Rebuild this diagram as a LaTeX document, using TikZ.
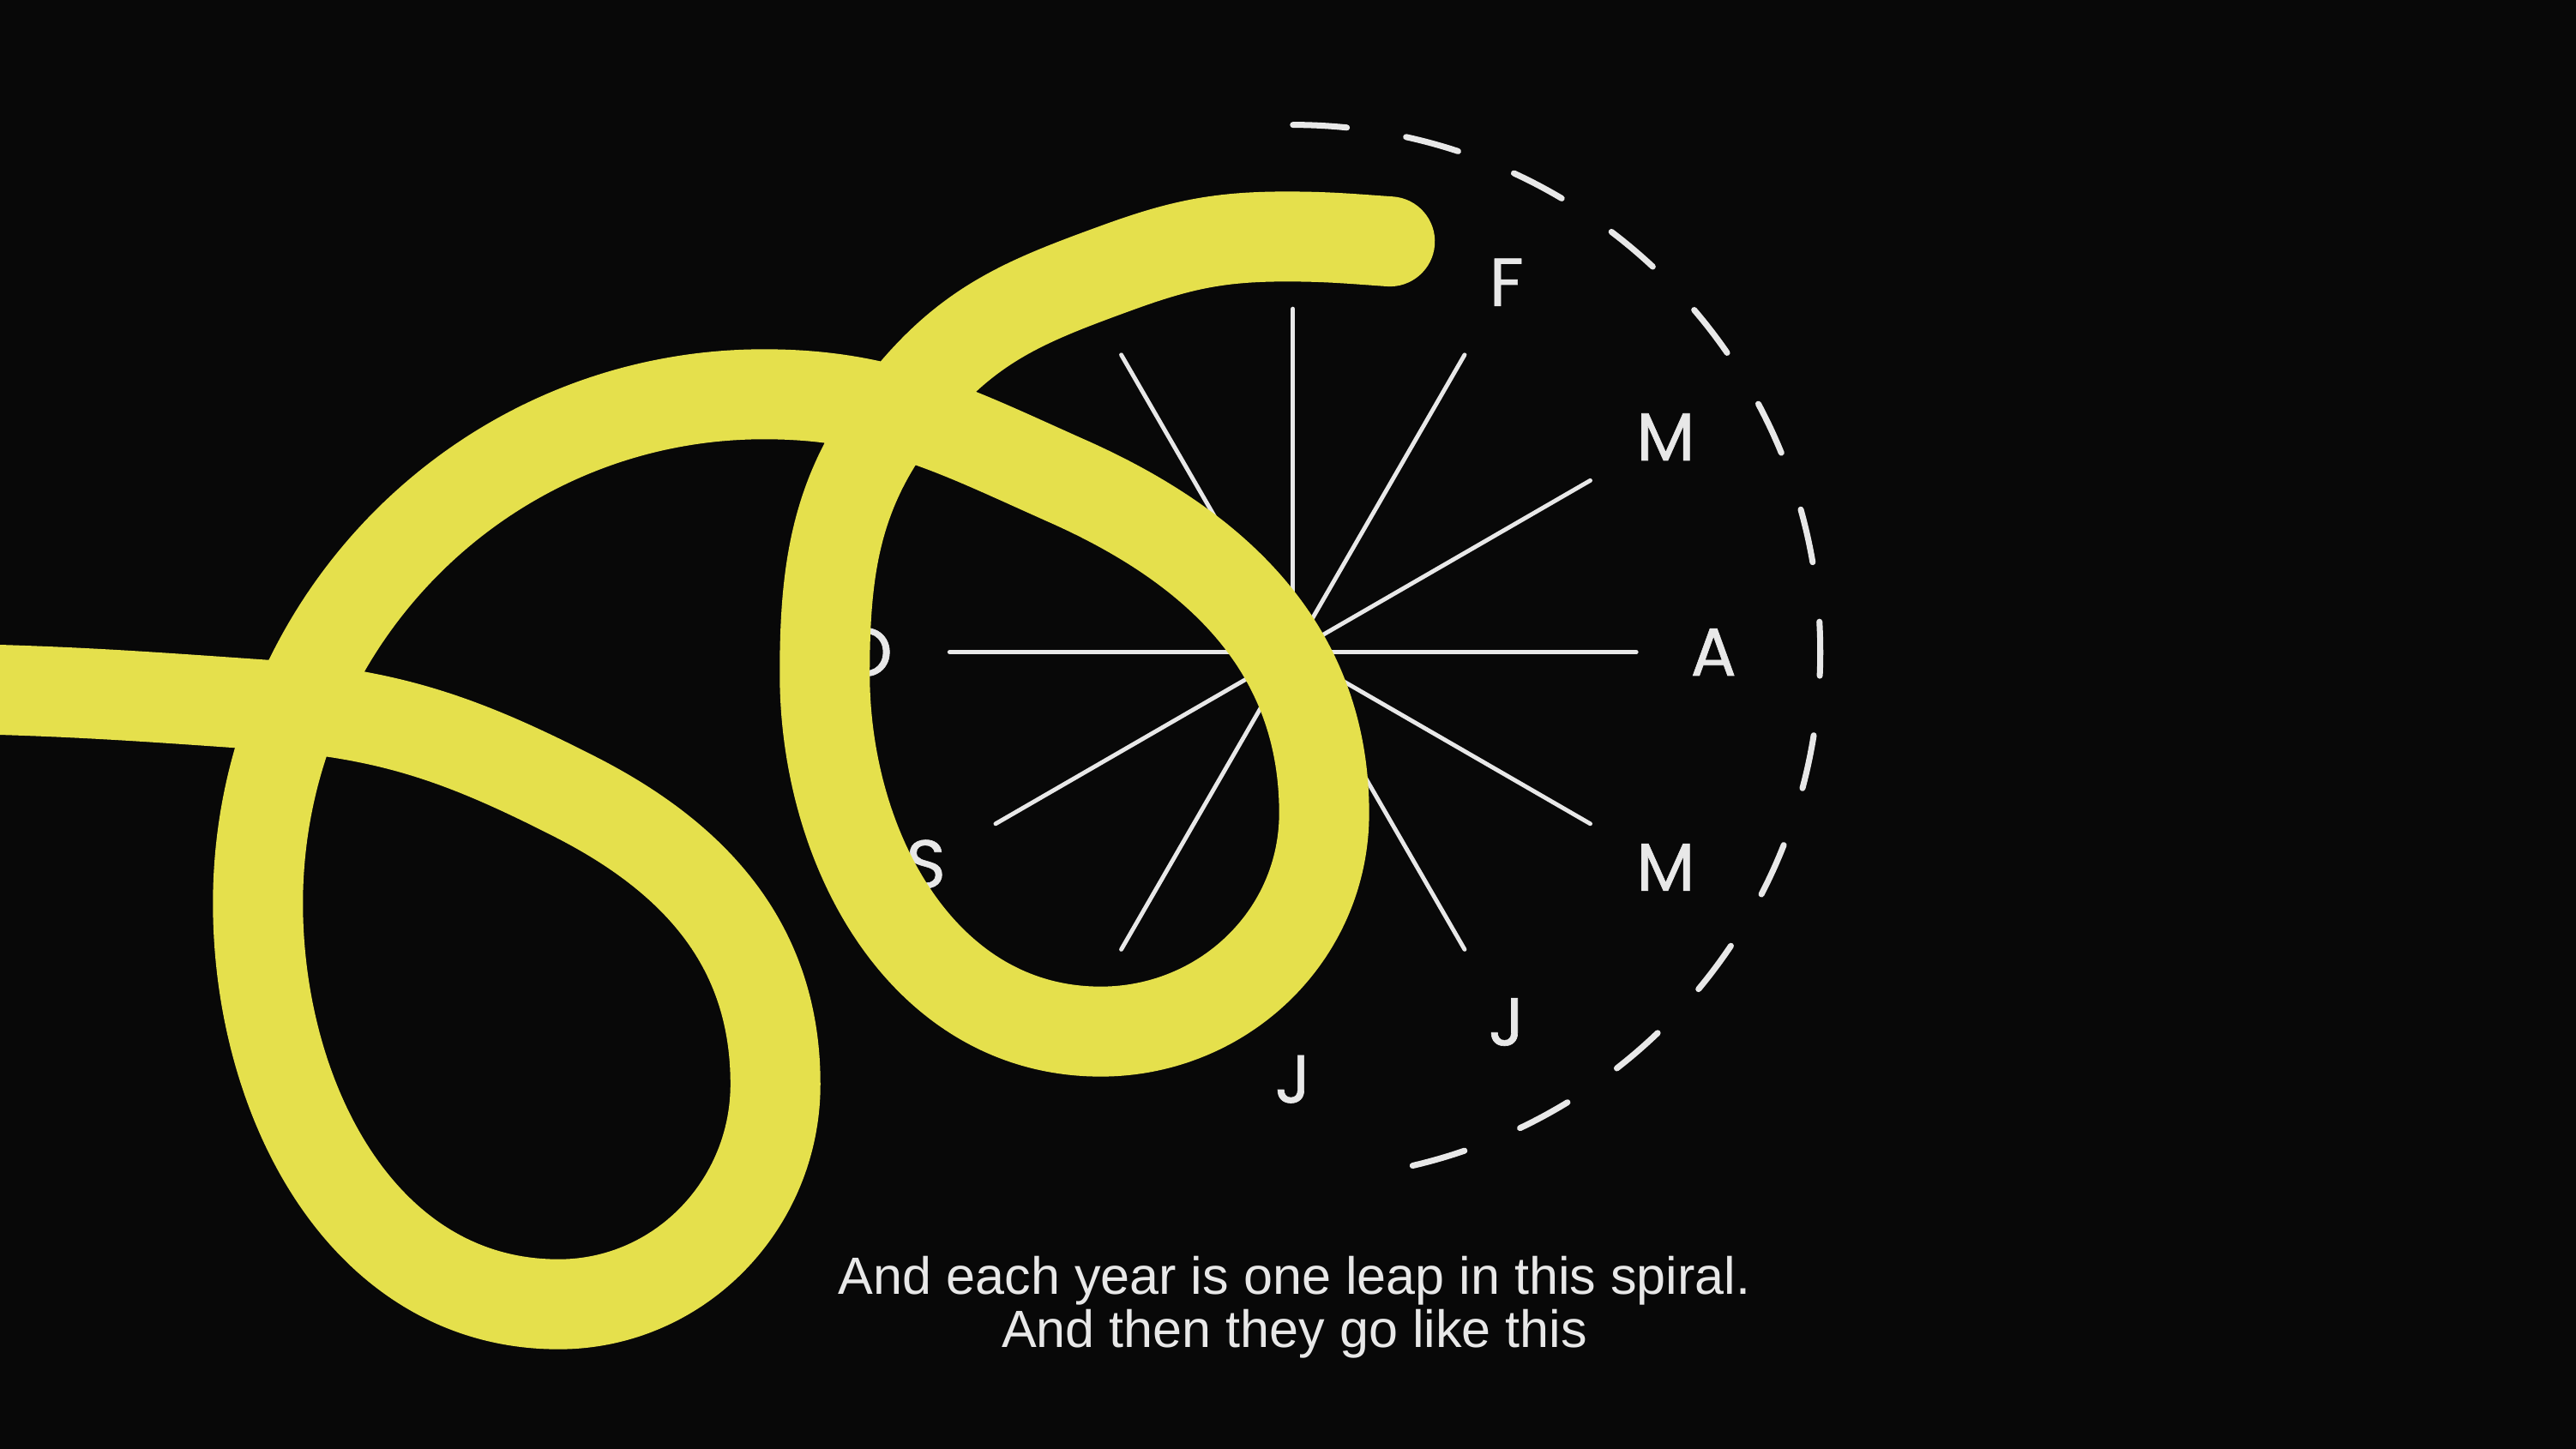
\documentclass[tikz,border=0pt]{standalone}
\usepackage{fontspec}
\setmainfont{Liberation Sans}
\newfontfamily\monthfont{Poppins}[FakeBold=0.8]
\usetikzlibrary{calc}
\definecolor{bgblack}{RGB}{8,8,8}
\definecolor{loopyellow}{RGB}{229,224,76}
\definecolor{chalk}{RGB}{232,232,232}

\begin{document}
\begin{tikzpicture}[x=0.019158cm, y=0.019158cm,
    spoke/.style={chalk, line width=1.4pt, line cap=round},
    month/.style={text=chalk, font=\monthfont\fontsize{22.5}{22.5}\selectfont},
    caption/.style={text=chalk, font=\fontsize{17.4}{17.4}\selectfont, anchor=base}]
    \useasboundingbox (0,0) rectangle (1568,-882);
    \clip (0,0) rectangle (1568,-882);
    \fill[bgblack] (0,0) rectangle (1568,-882);
    \coordinate (c) at (787,-397);
    % spokes (none straight down)
    \foreach \a in {0,30,...,240,300,330}
        \draw[spoke] (c) -- ++(\a:209);
    % months
    \node[month] (feb) at ($(c)+(60:260)$) {F};
    \node[month] (mar) at ($(c)+(30:262)$) {M};
    \node[month] (apr) at ($(c)+(0:256)$) {A};
    \node[month] (may) at ($(c)+(-30:262)$) {M};
    \node[month] (jun) at ($(c)+(-60:260)$) {J};
    \node[month] (jul) at ($(c)+(-90:260)$) {J};
    \node[month] (sep) at ($(c)+(-150:258)$) {S};
    \node[month] (oct) at ($(c)+(180:260)$) {O};
    % dashed rim
    \draw[chalk, line width=2pt, line cap=round, dash pattern=on 0.63cm off 0.70cm]
        ($(c)+(90:321)$) arc[start angle=90, end angle=-77, radius=321];
    % the spiral
    \draw[loopyellow, line width=1.05cm, line cap=round]
        (-40,-419) to[out=-1, in=176] (160,-429)
        to[out=-4, in=153] (350,-485)
        to[out=-27, in=90] (472,-660)
        to[out=-90, in=0] (340,-794)
        to[out=180, in=-90] (157,-550)
        to[out=90, in=180] (465,-240)
        to[out=0, in=156] (650,-293)
        to[out=-24, in=90] (806,-495)
        to[out=-90, in=0] (670,-628)
        to[out=180, in=-90] (502,-410)
        to[out=90, in=-130] (555,-240)
        to[out=50, in=-160] (680,-163)
        to[out=20, in=180] (783,-144)
        to[out=0, in=176] (846,-147);
    \node[caption] (cap1) at (788,-788) {And each year is one leap in this spiral.};
    \node[caption] (cap2) at (788,-820.5) {And then they go like this};
\end{tikzpicture}
\end{document}
